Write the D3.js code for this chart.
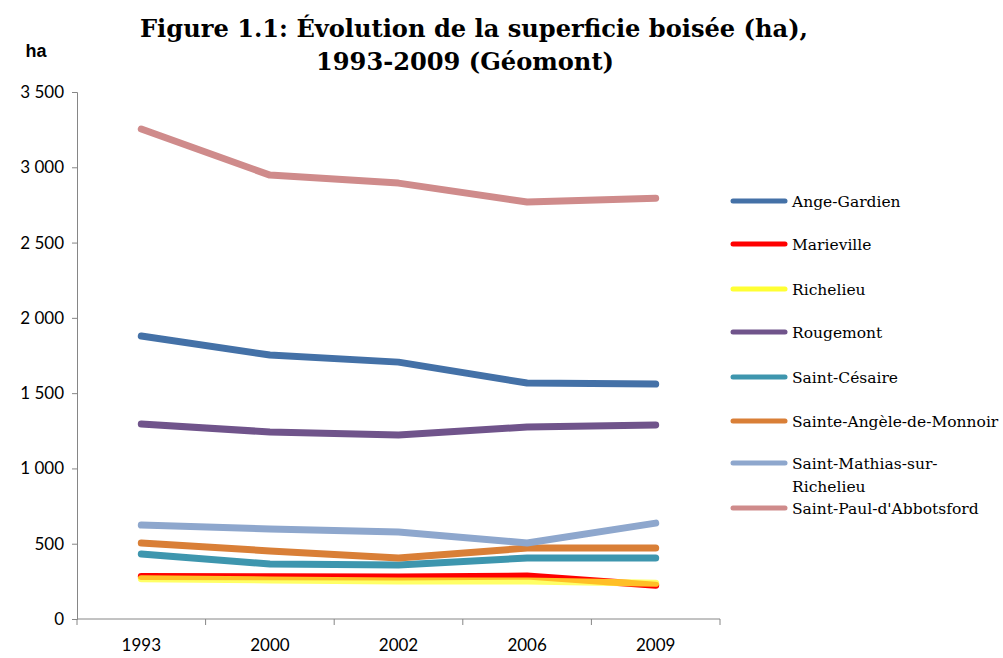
<!DOCTYPE html>
<meta charset="utf-8">
<script src="https://d3js.org/d3.v7.min.js"></script>
<style>
  body { margin: 0; background: #fff; }
</style>
<div id="chart"></div>
<script>
  // data
  const years = ["1993", "2000", "2002", "2006", "2009"];
  const names = ["Ange-Gardien", "Marieville", "Richelieu", "Rougemont", "Saint-Césaire",
    "Sainte-Angèle-de-Monnoir", "Saint-Mathias-sur-Richelieu", "Saint-Paul-d'Abbotsford"];
  const angeGardien = [1879, 1753, 1706, 1567, 1560];
  const marieville = [283, 281, 279, 285, 224];
  const richelieu = [268, 259, 252, 252, 237];
  const rougemont = [1295, 1242, 1222, 1275, 1288];
  const saintCesaire = [431, 365, 358, 405, 405];
  const sainteAngele = [505, 452, 405, 471, 471];
  const saintMathias = [624, 598, 578, 505, 637];
  const saintPaul = [3254, 2948, 2895, 2769, 2795];
  const yTicks = [0, 500, 1000, 1500, 2000, 2500, 3000, 3500];

  const series = [angeGardien, marieville, richelieu, rougemont, saintCesaire, sainteAngele, saintMathias, saintPaul];
  const colors = ["#4471a7", "#ff0000", "#ffff33", "#70548b", "#3e96ae", "#d97f37", "#8ea7cd", "#cf8b8b"];

  const width = 1003, height = 658;
  const svg = d3.select("#chart").append("svg")
    .attr("width", width)
    .attr("height", height);

  const x = d3.scaleBand().domain(years).range([77, 720]);
  const y = d3.scaleLinear().domain([0, 3500]).range([619, 92]);

  // y axis
  svg.append("g")
    .attr("transform", "translate(77,0)")
    .call(d3.axisLeft(y).tickValues(yTicks).tickSize(5).tickPadding(8)
      .tickFormat(d => d3.format(",")(d).replace(",", " ")));
  // x axis
  const xAxis = svg.append("g")
    .attr("transform", "translate(0,619)")
    .call(d3.axisBottom(x).tickSize(0).tickPadding(20));
  // boundary ticks between categories
  svg.append("g").selectAll("line")
    .data(d3.range(years.length + 1))
    .join("line")
    .attr("x1", i => 77 + i * x.step())
    .attr("x2", i => 77 + i * x.step())
    .attr("y1", 619).attr("y2", 625)
    .attr("stroke", "#868686");

  svg.selectAll(".domain, .tick line").attr("stroke", "#868686");
  svg.selectAll(".tick text")
    .attr("fill", "#000")
    .style("font-family", "Lato, 'Liberation Sans', sans-serif")
    .style("font-size", "17px");
  xAxis.select(".domain").attr("d", "M77,0H720");

  // lines
  const line = d3.line()
    .x((d, i) => x(years[i]) + x.bandwidth() / 2)
    .y(d => y(d));

  svg.append("g").selectAll("path")
    .data(series)
    .join("path")
    .attr("d", line)
    .attr("fill", "none")
    .attr("stroke", (d, i) => colors[i])
    .attr("stroke-opacity", (d, i) => i === 2 ? 0.75 : 1)
    .attr("stroke-width", 7)
    .attr("stroke-linecap", "round")
    .attr("stroke-linejoin", "round");

  // legend
  const legendY = [201, 244, 289, 332, 377, 421, 463, 508];
  const legend = svg.append("g").selectAll("g")
    .data(names)
    .join("g")
    .attr("transform", (d, i) => `translate(733,${legendY[i]})`);
  legend.append("line")
    .attr("x1", 0).attr("x2", 52)
    .attr("stroke", (d, i) => colors[i])
    .attr("stroke-width", 5)
    .attr("stroke-linecap", "round");
  legend.append("text")
    .attr("x", 59)
    .attr("y", 6)
    .style("font-family", "'DejaVu Serif', serif")
    .style("font-size", "15.5px")
    .attr("fill", "#000")
    .each(function (d) {
      const t = d3.select(this);
      if (d === "Saint-Mathias-sur-Richelieu") {
        t.append("tspan").attr("x", 59).text("Saint-Mathias-sur-");
        t.append("tspan").attr("x", 59).attr("dy", 23).text("Richelieu");
      } else {
        t.text(d);
      }
    });

  // title
  const title = svg.append("text")
    .attr("text-anchor", "middle")
    .style("font-family", "'DejaVu Serif', serif")
    .style("font-weight", "bold")
    .style("font-size", "24px");
  title.append("tspan").attr("x", 474).attr("y", 37)
    .attr("textLength", 668).attr("lengthAdjust", "spacingAndGlyphs")
    .text("Figure 1.1: Évolution de la superficie boisée (ha),");
  title.append("tspan").attr("x", 465).attr("y", 70)
    .attr("textLength", 298).attr("lengthAdjust", "spacingAndGlyphs")
    .text("1993-2009 (Géomont)");

  // axis unit
  svg.append("text")
    .attr("x", 36).attr("y", 57)
    .attr("text-anchor", "middle")
    .style("font-family", "'Liberation Sans', sans-serif")
    .style("font-weight", "bold")
    .style("font-size", "18px")
    .text("ha");
</script>
